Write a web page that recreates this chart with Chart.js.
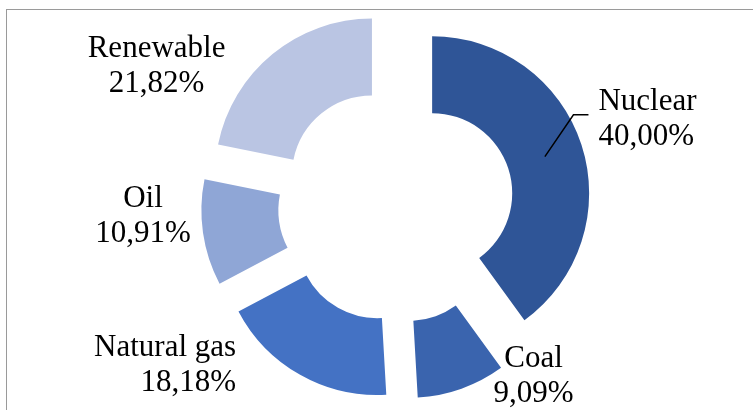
<!DOCTYPE html>
<html><head><meta charset="utf-8">
<script src="https://cdn.jsdelivr.net/npm/chart.js@4/dist/chart.umd.min.js"></script>
<style>
html,body{margin:0;padding:0;background:#fff;overflow:hidden;width:753px;height:410px;}
#frame{position:absolute;left:6px;top:9px;width:800px;height:500px;border:1px solid #9a9a9a;box-sizing:border-box;}
#wrap{position:absolute;left:0;top:0;width:753px;height:410px;}
</style></head><body>
<div id="frame"></div>
<div id="wrap"><canvas id="c"></canvas></div>
<script>
// ---- data ----
const categories = ['Nuclear', 'Coal', 'Natural gas', 'Oil', 'Renewable'];
const shares = [40.00, 9.09, 18.18, 10.91, 21.82];
const colors = ['#2F5597', '#3A64AE', '#4472C4', '#8FA6D6', '#BAC5E3'];

// ---- style / layout ----
const EXPLODE = 38;          // px each slice is pulled out
const FONT = "31px 'Liberation Serif', 'Times New Roman', serif";
const LINE_H = 35;
const labelLayout = [
  {align: 'left',   dx: 17,   dy: -35, leader: true},
  {align: 'center', dx: 72,   dy: -22},
  {align: 'right',  dx: -64,  dy: -19},
  {align: 'center', dx: -60,  dy: -26},
  {align: 'center', dx: -116, dy: 3}
];

const fmtPct = v => v.toFixed(2).replace('.', ',') + '%';

const explodePlugin = {
  id: 'explode',
  beforeDatasetDraw(chart, args) {
    const ctx = chart.ctx;
    const meta = args.meta;
    meta.data.forEach(arc => {
      const h = (arc.startAngle + arc.endAngle) / 2;
      ctx.save();
      ctx.translate(Math.cos(h) * EXPLODE, Math.sin(h) * EXPLODE);
      arc.draw(ctx, chart.chartArea);
      ctx.restore();
    });
    return false;
  },
  afterDraw(chart) {
    const ctx = chart.ctx;
    const meta = chart.getDatasetMeta(0);
    ctx.save();
    ctx.font = FONT;
    ctx.fillStyle = '#000';
    ctx.textBaseline = 'alphabetic';
    meta.data.forEach((arc, i) => {
      const h = (arc.startAngle + arc.endAngle) / 2;
      const cx = Math.cos(h), sy = Math.sin(h);
      const ox = arc.x + (EXPLODE + arc.outerRadius) * cx;
      const oy = arc.y + (EXPLODE + arc.outerRadius) * sy;
      const L = labelLayout[i];
      const x = ox + L.dx, y = oy + L.dy;
      ctx.textAlign = L.align;
      ctx.fillText(categories[i], x, y);
      ctx.fillText(fmtPct(shares[i]), x, y + LINE_H);
      if (L.leader) {
        const rm = (arc.innerRadius + arc.outerRadius) / 2 + EXPLODE;
        const sx = arc.x + rm * cx, syy = arc.y + rm * sy;
        ctx.beginPath();
        ctx.strokeStyle = '#000';
        ctx.lineWidth = 1.5;
        ctx.moveTo(sx, syy);
        ctx.lineTo(x - 25, y + 5);
        ctx.lineTo(x - 10, y + 5);
        ctx.stroke();
      }
    });
    ctx.restore();
  }
};

new Chart(document.getElementById('c'), {
  type: 'doughnut',
  data: {
    labels: categories,
    datasets: [{
      data: shares,
      backgroundColor: colors,
      borderWidth: 0
    }]
  },
  options: {
    responsive: true,
    maintainAspectRatio: false,
    animation: false,
    radius: 157,
    cutout: '51%',
    layout: {padding: {left: 39, right: 0, top: 0, bottom: 0}},
    plugins: {legend: {display: false}, tooltip: {enabled: false}}
  },
  plugins: [explodePlugin]
});
</script>
</body></html>
